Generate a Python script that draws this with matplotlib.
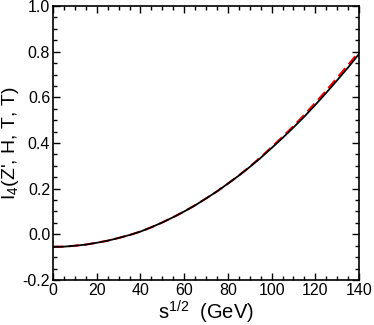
import numpy as np
import matplotlib
matplotlib.use("Agg")
from matplotlib import pyplot as plt
from matplotlib.ticker import MultipleLocator

# values
sqrt_s = [0, 5, 10, 15, 20, 25, 30, 35, 40, 45, 50, 55, 60, 65, 70, 75, 80,
          85, 90, 95, 100, 105, 110, 115, 120, 125, 130, 135, 140]
i4_solid = [-0.055, -0.054, -0.050, -0.045, -0.037, -0.028, -0.016, -0.003,
            0.012, 0.031, 0.052, 0.075, 0.100, 0.127, 0.157, 0.188, 0.222,
            0.257, 0.295, 0.335, 0.378, 0.422, 0.468, 0.516, 0.567, 0.620,
            0.675, 0.731, 0.790]
i4_dashed = [-0.055, -0.054, -0.050, -0.045, -0.037, -0.028, -0.016, -0.003,
             0.012, 0.031, 0.052, 0.075, 0.100, 0.127, 0.157, 0.188, 0.222,
             0.258, 0.296, 0.338, 0.382, 0.427, 0.474, 0.524, 0.576, 0.630,
             0.686, 0.742, 0.800]

plt.rcParams['font.family'] = ['Liberation Sans', 'DejaVu Sans']
plt.rcParams['mathtext.default'] = 'regular'
plt.rcParams['axes.unicode_minus'] = False

fig = plt.figure(figsize=(3.74, 3.25), dpi=100)
ax = fig.add_axes([0.1417, 0.1385, 0.8183, 0.843])

ax.plot(sqrt_s, i4_dashed, color='red', lw=1.5, dashes=(5, 2.5))
ax.plot(sqrt_s, i4_solid, color='black', lw=1.3)

ax.set_xlim(0, 140)
ax.set_ylim(-0.2, 1.0)
ax.xaxis.set_major_locator(MultipleLocator(20))
ax.xaxis.set_minor_locator(MultipleLocator(5))
ax.yaxis.set_major_locator(MultipleLocator(0.2))
ax.yaxis.set_minor_locator(MultipleLocator(0.05))
ax.yaxis.set_major_formatter(plt.FuncFormatter(lambda v, p: "%.1f" % v))

ax.tick_params(which='both', direction='in', top=True, right=True, labelsize=11.5, pad=2)
ax.tick_params(which='major', length=5, width=1)
ax.tick_params(which='minor', length=3, width=1)
for sp in ax.spines.values():
    sp.set_linewidth(1.2)

ax.set_xlabel("s$^{1/2}$  (GeV)", fontsize=14.5, labelpad=1)
ax.set_ylabel("I$_4$(Z', H, T, T)", fontsize=14, labelpad=1)

fig.savefig("out.png", dpi=100)
